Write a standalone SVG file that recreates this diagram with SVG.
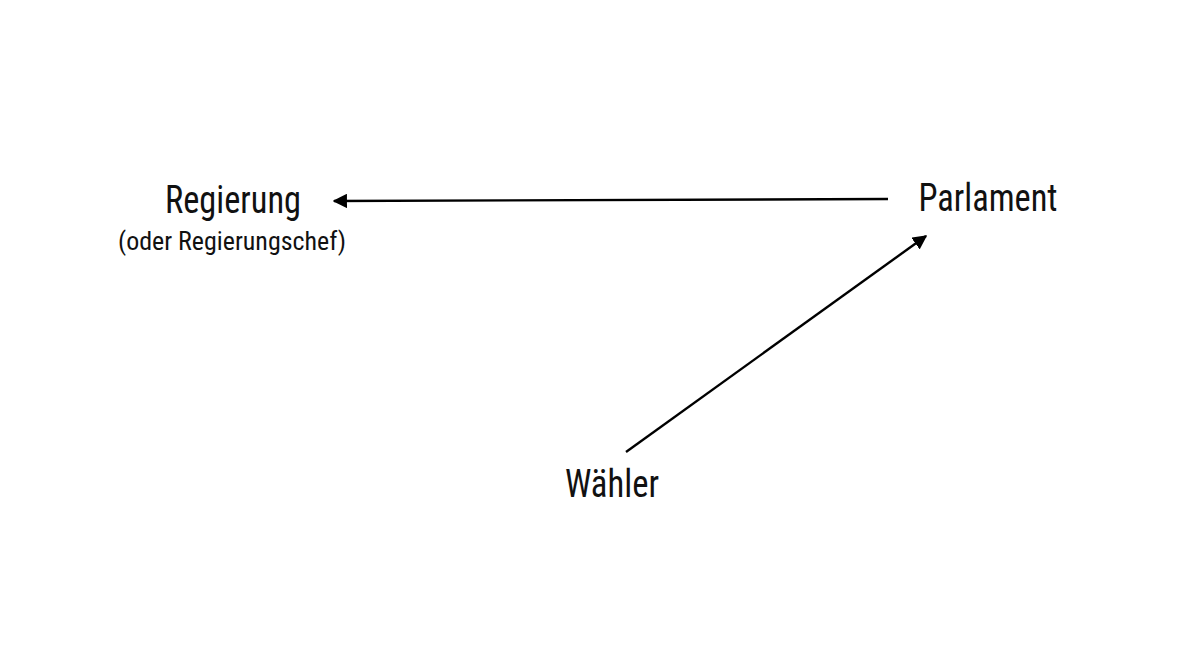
<svg xmlns="http://www.w3.org/2000/svg" width="1192" height="669" viewBox="0 0 1192 669">
<style>
text{font-family:"Roboto Condensed","DejaVu Sans Condensed",Roboto,sans-serif;font-weight:400;fill:#111;text-anchor:middle}
.main{font-size:39px}
.sub{font-size:26px}
.edge{stroke:#000;stroke-width:2.4;fill:none;marker-end:url(#ah)}
</style>
<defs>
<marker id="ah" viewBox="0 0 10 10" refX="9" refY="5" markerWidth="6" markerHeight="6" markerUnits="strokeWidth" orient="auto">
<path d="M0,0 L10,5 L0,10 z" fill="#000"/>
</marker>
</defs>
<rect width="1192" height="669" fill="#fff"/>
<g id="connectors">
<path class="edge" d="M888,199 L334,201"/>
<path class="edge" d="M626,452 L926,236"/>
</g>
<g id="regierung">
<text class="main" x="233" y="213" textLength="136" lengthAdjust="spacingAndGlyphs">Regierung</text>
<text class="sub" x="232" y="250" textLength="228" lengthAdjust="spacingAndGlyphs">(oder Regierungschef)</text>
</g>
<g id="parlament">
<text class="main" x="988" y="211" textLength="139" lengthAdjust="spacingAndGlyphs">Parlament</text>
</g>
<g id="waehler">
<text class="main" x="612" y="497" textLength="94" lengthAdjust="spacingAndGlyphs">Wähler</text>
</g>
</svg>
